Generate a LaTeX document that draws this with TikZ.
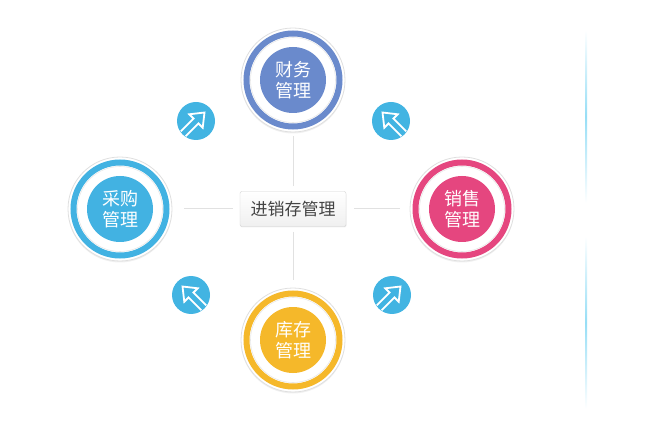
\documentclass[tikz,border=0pt]{standalone}
\usepackage{fontspec}
\newfontfamily\cjk{Noto Sans CJK SC}
\usetikzlibrary{shadows}

\definecolor{finblue}{RGB}{106,138,204}
\definecolor{buysky}{RGB}{66,178,226}
\definecolor{salepink}{RGB}{229,70,127}
\definecolor{stockyellow}{RGB}{245,184,42}
\definecolor{iconblue}{RGB}{66,180,226}
\definecolor{glow}{RGB}{150,222,246}
\definecolor{linkgray}{RGB}{225,225,225}
\definecolor{textgray}{RGB}{68,68,68}

\tikzset{
  outer/.style={circle, minimum size=104pt, inner sep=0pt, fill=white, draw=gray!25, line width=0.8pt,
    drop shadow={shadow xshift=0pt, shadow yshift=-1.5pt, opacity=0.12}},
  ring/.style={draw=#1, line width=6pt},
  disk/.style={circle, minimum size=66pt, inner sep=0pt, fill=#1, text=white, align=center,
    font=\cjk\fontsize{18}{21}\selectfont},
  hub/.style={rectangle, rounded corners=2pt, minimum width=106pt, minimum height=35pt, draw=gray!35,
    top color=white, bottom color=gray!12, text=textgray, font=\cjk\fontsize{17}{20}\selectfont,
    drop shadow={shadow xshift=0.5pt, shadow yshift=-1pt, opacity=0.12}},
  link/.style={draw=linkgray, line width=1pt},
  icon/.style={circle, minimum size=38pt, inner sep=0pt, fill=iconblue}
}

% arrow badge: node name, position, direction
\newcommand{\arrowicon}[3]{
  \node[icon] (#1) at (#2) {};
  \begin{scope}
    \clip (#1.center) circle (18.5pt);
    \draw[white, line width=1.8pt, line join=miter, shift={(#1.center)}, rotate=#3]
      (-25pt,3.5pt) -- (0pt,3.5pt) -- (0pt,9.5pt) -- (12pt,0pt) -- (0pt,-9.5pt) -- (0pt,-3.5pt) -- (-25pt,-3.5pt);
  \end{scope}
}

\begin{document}
\begin{tikzpicture}[x=1pt, y=-1pt]
		\useasboundingbox (0,0) rectangle (645,430);
		% Centre
		\node[hub] (erp) at (293,209) {进销存管理};
		% Modules
		\node[outer] (finance) at (293,80) {};
		\draw[ring=finblue] (finance.center) circle (46.5pt);
		\draw[gray!18, line width=0.6pt] (finance.center) circle (42.5pt);
		\node[disk=finblue] (finance-t) at (finance.center) {财务\\管理};

		\node[outer] (purchase) at (120,209) {};
		\draw[ring=buysky] (purchase.center) circle (46.5pt);
		\draw[gray!18, line width=0.6pt] (purchase.center) circle (42.5pt);
		\node[disk=buysky] (purchase-t) at (purchase.center) {采购\\管理};

		\node[outer] (sales) at (462,209) {};
		\draw[ring=salepink] (sales.center) circle (46.5pt);
		\draw[gray!18, line width=0.6pt] (sales.center) circle (42.5pt);
		\node[disk=salepink] (sales-t) at (sales.center) {销售\\管理};

		\node[outer] (stock) at (293,340) {};
		\draw[ring=stockyellow] (stock.center) circle (46.5pt);
		\draw[gray!18, line width=0.6pt] (stock.center) circle (42.5pt);
		\node[disk=stockyellow] (stock-t) at (stock.center) {库存\\管理};
		% Links
		\draw[link, shorten <=5pt, shorten >=4pt] (erp) -- (finance);
		\draw[link, shorten <=5pt, shorten >=8pt] (erp) -- (stock);
		\draw[link, shorten <=7pt, shorten >=12pt] (erp) -- (purchase);
		\draw[link, shorten <=8pt, shorten >=10pt] (erp) -- (sales);
		% Arrow badges
		\arrowicon{nw}{196,121}{45}
		\arrowicon{ne}{391,121}{135}
		\arrowicon{sw}{191,295}{135}
		\arrowicon{se}{392,295}{45}
		% Side glow
		\shade[top color=white, bottom color=white, middle color=glow] (585.3,30) rectangle (587,203);
		\shade[top color=white, bottom color=white, middle color=glow] (585.3,236) rectangle (587,409);
	\end{tikzpicture}
\end{document}
